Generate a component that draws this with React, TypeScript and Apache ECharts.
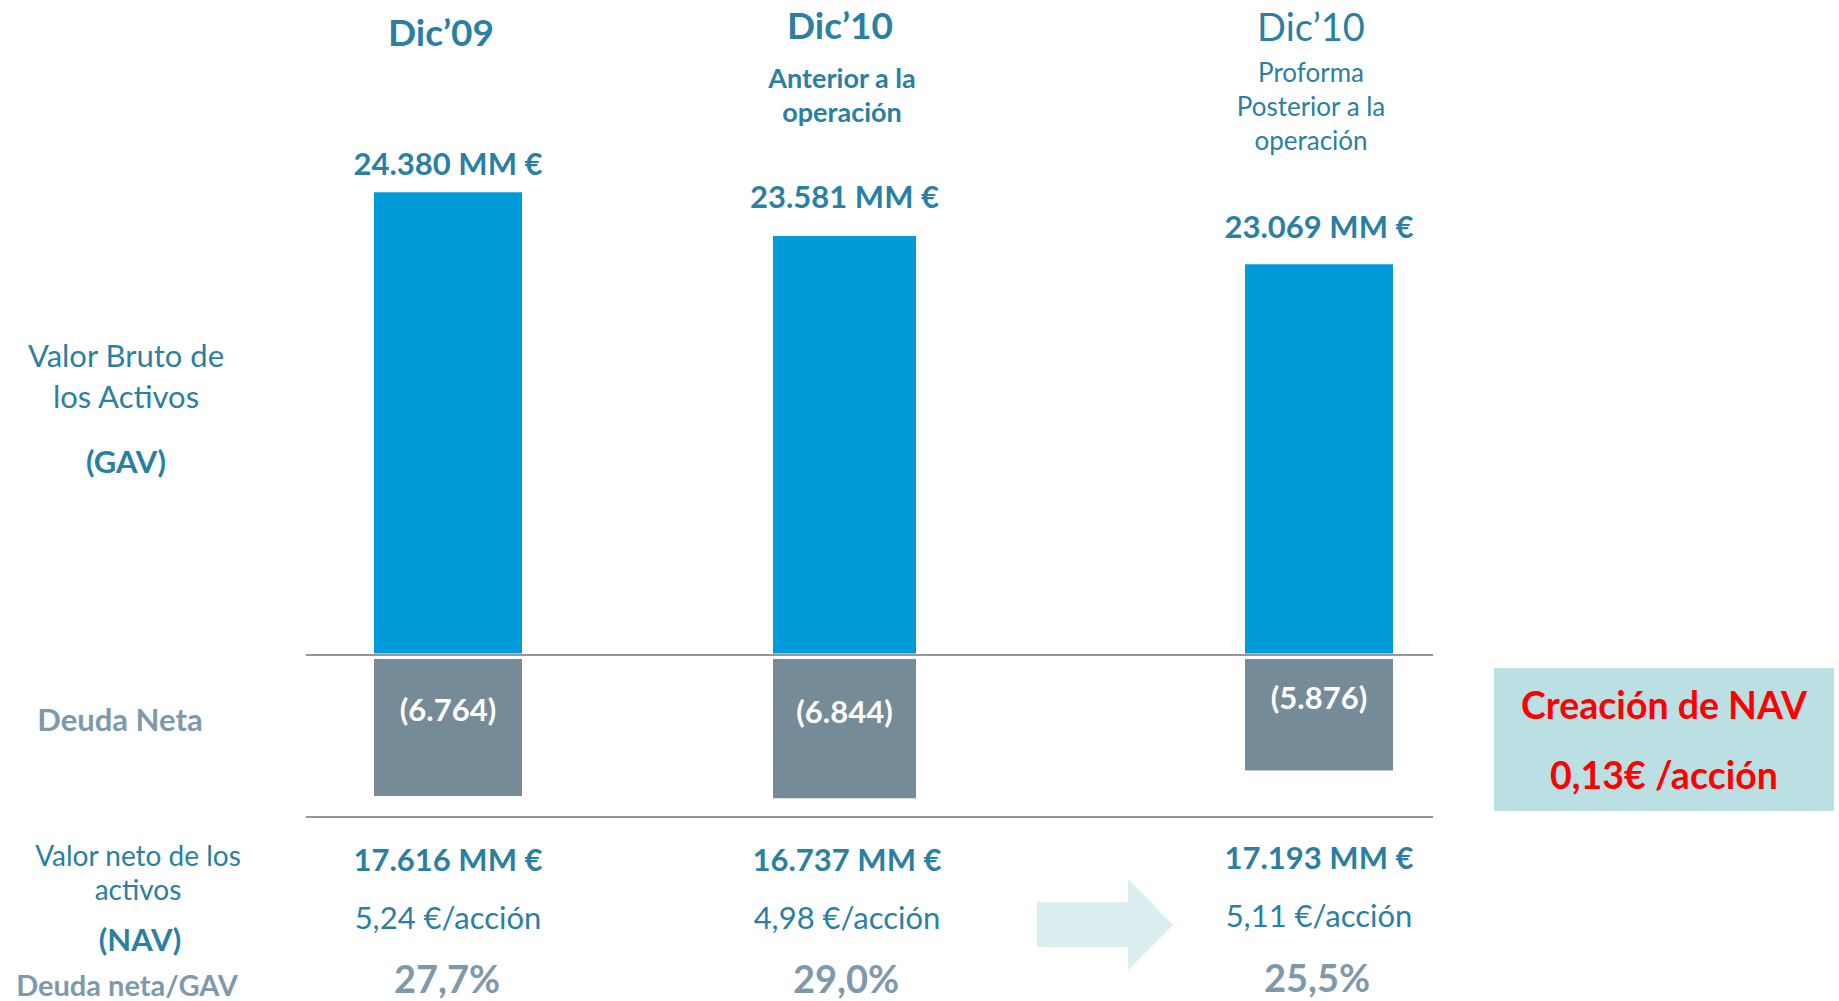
import React, { useEffect, useRef } from "react";
import * as echarts from "echarts";

// ---------- data ----------
const HEADER_TITLES = ["Dic’09", "Dic’10", "Dic’10"];
const HEADER_SUBTITLES: string[][] = [[], ["Anterior a la", "operación"], ["Proforma", "Posterior a la", "operación"]];
const GAV = [24380, 23581, 23069];
const NET_DEBT = [6764, 6844, 5876];
const NAV = [17616, 16737, 17193];
const NAV_PER_SHARE = [5.24, 4.98, 5.11];
const DEBT_TO_GAV = [27.7, 29.0, 25.5];
const NAV_CREATION_PER_SHARE = 0.13;
const GAV_LABEL = ["Valor Bruto de", "los Activos", "(GAV)"];
const DEBT_LABEL = "Deuda Neta";
const NAV_LABEL = ["Valor neto de los", "activos", "(NAV)"];
const RATIO_LABEL = "Deuda neta/GAV";
const BOX_TITLE = "Creación de NAV";

// ---------- styles / layout ----------
const FONT = "Lato";
const TEAL = "#2A7FA3";
const GREY_TXT = "#7F99AC";
const BLUE_BAR = "#009BD8";
const GREY_BAR = "#758B97";
const K = 0.36; // central-baseline offset factor

const COLS = [
  { left: 374, width: 148 },
  { left: 773, width: 143 },
  { left: 1245, width: 148 },
];
const TOP_GRID = { top: 158, height: 495.5, min: 16000, max: 25000 };
const BOT_GRID = { top: 659, height: 172.6, min: 2000, max: 8000 };

const thousands = (v: number) => String(v).replace(/\B(?=(\d{3})+(?!\d))/g, ".");
const decComma = (v: number, d: number) => v.toFixed(d).replace(".", ",");

function txt(text: string, cx: number, baseline: number, size: number, bold: boolean, color: string, lineHeight?: number) {
  const lines = text.split("\n").length;
  const lh = lineHeight || size;
  return {
    type: "text",
    x: cx,
    y: baseline - K * size + ((lines - 1) * lh) / 2,
    silent: true,
    style: {
      text,
      fill: color,
      fontSize: size,
      lineHeight: lh,
      fontWeight: bold ? "bold" : "normal",
      fontFamily: FONT,
      align: "center",
      verticalAlign: "middle",
    },
  };
}

export default function App() {
  const ref = useRef<HTMLDivElement>(null);

  useEffect(() => {
    if (!ref.current) return;
    const chart = echarts.init(ref.current, undefined, { renderer: "svg" });

    const grids: any[] = [];
    const xAxes: any[] = [];
    const yAxes: any[] = [];
    const series: any[] = [];

    const gavLabelDist = [13.5, 24.5, 22.5];
    const debtLabelDist = [34, 36, 22];

    COLS.forEach((c, i) => {
      grids.push({ left: c.left, width: c.width, top: TOP_GRID.top, height: TOP_GRID.height });
      xAxes.push({ type: "category", gridIndex: i, data: [HEADER_TITLES[i]], show: false });
      yAxes.push({ type: "value", gridIndex: i, min: TOP_GRID.min, max: TOP_GRID.max, show: false, splitLine: { show: false } });
      series.push({
        type: "bar",
        xAxisIndex: i,
        yAxisIndex: i,
        barWidth: "100%",
        clip: true,
        data: [GAV[i]],
        itemStyle: { color: BLUE_BAR },
        label: {
          show: true,
          position: "top",
          distance: gavLabelDist[i],
          formatter: (p: any) => `${thousands(p.value)} MM €`,
          color: TEAL,
          fontSize: 31,
          lineHeight: 31,
          fontWeight: "bold",
          fontFamily: FONT,
        },
      });
    });
    COLS.forEach((c, i) => {
      const gi = i + 3;
      grids.push({ left: c.left, width: c.width, top: BOT_GRID.top, height: BOT_GRID.height });
      xAxes.push({ type: "category", gridIndex: gi, data: [HEADER_TITLES[i]], show: false });
      yAxes.push({ type: "value", gridIndex: gi, min: BOT_GRID.min, max: BOT_GRID.max, inverse: true, show: false, splitLine: { show: false } });
      series.push({
        type: "bar",
        xAxisIndex: gi,
        yAxisIndex: gi,
        barWidth: "100%",
        clip: true,
        data: [NET_DEBT[i]],
        itemStyle: { color: GREY_BAR },
        label: {
          show: true,
          position: "insideTop",
          distance: debtLabelDist[i],
          formatter: (p: any) => `(${thousands(p.value)})`,
          color: "#FFFFFF",
          fontSize: 31,
          lineHeight: 31,
          fontWeight: "bold",
          fontFamily: FONT,
        },
      });
    });

    const g: any[] = [];
    // headers
    g.push(txt(HEADER_TITLES[0], 441, 45, 37, true, TEAL));
    g.push(txt(HEADER_TITLES[1], 840, 38, 37, true, TEAL));
    g.push(txt(HEADER_SUBTITLES[1].join("\n"), 842, 87, 27, true, TEAL, 34));
    g.push(txt(HEADER_TITLES[2], 1311, 40, 38, false, TEAL));
    g.push(txt(HEADER_SUBTITLES[2].join("\n"), 1311, 81, 26, false, TEAL, 34));

    // left labels
    g.push(txt(GAV_LABEL[0] + "\n" + GAV_LABEL[1], 126, 366, 31, false, TEAL, 41));
    g.push(txt(GAV_LABEL[2], 126, 472, 31, true, TEAL));
    g.push(txt(DEBT_LABEL, 120, 730, 31, true, GREY_TXT));
    g.push(txt(NAV_LABEL[0], 138, 865, 28, false, TEAL));
    g.push(txt(NAV_LABEL[1], 138, 899, 28, false, TEAL));
    g.push(txt(NAV_LABEL[2], 140, 950, 31, true, TEAL));
    g.push(txt(RATIO_LABEL, 127, 995, 29, true, GREY_TXT));

    // separator lines
    g.push({ type: "line", shape: { x1: 306, y1: 655, x2: 1433, y2: 655 }, style: { stroke: "#979797", lineWidth: 2 } });
    g.push({ type: "line", shape: { x1: 306, y1: 817, x2: 1433, y2: 817 }, style: { stroke: "#979797", lineWidth: 2 } });

    // bottom rows
    const navCx = [448, 847, 1319];
    const navBase = [870, 870, 868];
    const shareBase = [928, 928, 926];
    const pctCx = [447, 846, 1317];
    const pctBase = [992, 992, 990.5];
    NAV.forEach((v, i) => {
      g.push(txt(`${thousands(v)} MM €`, navCx[i], navBase[i], 31, true, TEAL));
      g.push(txt(`${decComma(NAV_PER_SHARE[i], 2)} €/acción`, navCx[i], shareBase[i], 31, false, TEAL));
      g.push(txt(`${decComma(DEBT_TO_GAV[i], 1)}%`, pctCx[i], pctBase[i], 38, true, GREY_TXT));
    });

    // arrow
    g.push({
      type: "polygon",
      shape: { points: [[1037, 902], [1128, 902], [1128, 879], [1173, 925], [1128, 970], [1128, 947], [1037, 947]] },
      style: { fill: "#DAEEF0" },
    });

    // NAV creation box
    g.push({ type: "rect", shape: { x: 1494, y: 668, width: 340, height: 143 }, style: { fill: "#BBE0E3" } });
    g.push(txt(BOX_TITLE, 1664, 718, 37.5, true, "#FF0000"));
    g.push(txt(`${decComma(NAV_CREATION_PER_SHARE, 2)}€ /acción`, 1664, 788, 37.5, true, "#FF0000"));

    chart.setOption({
      animation: false,
      backgroundColor: "#FFFFFF",
      grid: grids,
      xAxis: xAxes,
      yAxis: yAxes,
      series,
      graphic: { elements: g },
    });

    return () => chart.dispose();
  }, []);

  return (
    <div
      ref={ref}
      style={{ position: "fixed", left: 0, top: 0, width: 1839, height: 1001, background: "#fff" }}
    />
  );
}
